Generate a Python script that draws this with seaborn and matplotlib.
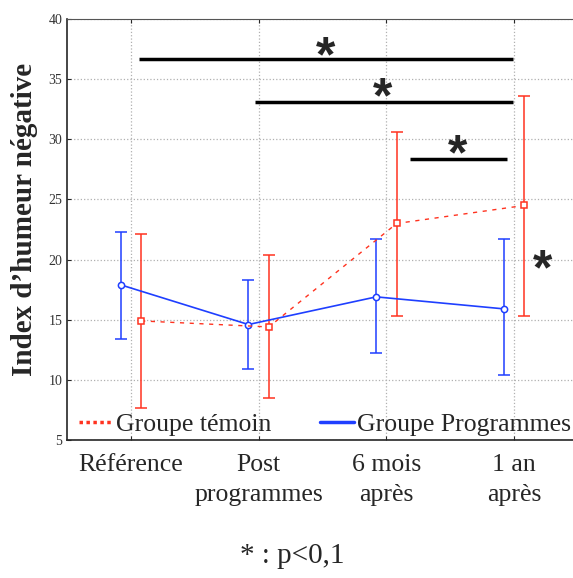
import seaborn as sns
import pandas as pd
import matplotlib.pyplot as plt

sns.set_style('ticks')
plt.rcParams['font.family'] = ['Liberation Serif', 'DejaVu Serif']
plt.rcParams['xtick.direction'] = 'in'
plt.rcParams['ytick.direction'] = 'in'

# données
periodes = ['Référence', 'Post\nprogrammes', '6 mois\naprès', '1 an\naprès']
prog_moy = [17.9, 14.6, 16.9, 15.9]
prog_bas = [13.4, 10.9, 12.2, 10.4]
prog_haut = [22.3, 18.3, 21.7, 21.7]
temoin_moy = [14.9, 14.4, 23.0, 24.5]
temoin_bas = [7.7, 8.5, 15.3, 15.3]
temoin_haut = [22.1, 20.4, 30.6, 33.6]

rouge = '#ff3320'
bleu = '#1f3fff'
decal = 0.08

pos = list(range(len(periodes)))
df = pd.DataFrame({
    'x': [p - decal for p in pos] + [p + decal for p in pos],
    'y': prog_moy + temoin_moy,
    'groupe': ['Groupe Programmes'] * 4 + ['Groupe témoin'] * 4,
})

fig = plt.figure(figsize=(5.73, 5.78), dpi=100)
ax = fig.add_axes([67 / 573, 1 - 440 / 578, 1 - 67 / 573, (440 - 19) / 578])

# barres d'erreur
ax.errorbar([p - decal for p in pos], prog_moy,
            yerr=[[m - b for m, b in zip(prog_moy, prog_bas)],
                  [h - m for m, h in zip(prog_moy, prog_haut)]],
            fmt='none', ecolor=bleu, elinewidth=1.1, capsize=4.5, capthick=1.1, zorder=2)
ax.errorbar([p + decal for p in pos], temoin_moy,
            yerr=[[m - b for m, b in zip(temoin_moy, temoin_bas)],
                  [h - m for m, h in zip(temoin_moy, temoin_haut)]],
            fmt='none', ecolor=rouge, elinewidth=1.1, capsize=4.5, capthick=1.1, zorder=2)

sns.lineplot(data=df[df.groupe == 'Groupe Programmes'], x='x', y='y', ax=ax,
             color=bleu, lw=1.2, marker='o', markersize=4.5, markerfacecolor='white',
             markeredgecolor=bleu, markeredgewidth=1.1, zorder=3, legend=False)
sns.lineplot(data=df[df.groupe == 'Groupe témoin'], x='x', y='y', ax=ax,
             color=rouge, lw=1.0, dashes=False, linestyle=(0, (3, 4)), marker='s',
             markersize=4.5, markerfacecolor='white', markeredgecolor=rouge,
             markeredgewidth=1.1, zorder=3, legend=False)

ax.set_xlim(-0.5, 3.46)
ax.set_ylim(5, 40)
ax.set_xticks(pos)
ax.set_xticklabels(periodes, fontsize=18.5, linespacing=1.5)
ax.set_yticks(range(5, 41, 5))
ax.tick_params(axis='y', labelsize=10, labelcolor='#333333', length=3)
ax.tick_params(axis='x', length=3, pad=10, top=True)
ax.set_xlabel('')
ax.set_ylabel('Index d’humeur négative', fontsize=21, fontweight='bold')
ax.yaxis.set_label_coords(-0.057, 0.525)
ax.grid(True, color='#b0b0b0', linestyle=':', linewidth=0.9)
ax.spines['right'].set_visible(False)
ax.spines['top'].set_color('#555555')
for s in ['left', 'bottom']:
    ax.spines[s].set_linewidth(1.2)

# comparaisons significatives
ax.hlines(36.7, 0.06, 2.99, color='black', lw=2.5)
ax.hlines(33.1, 0.97, 2.99, color='black', lw=2.5)
ax.hlines(28.4, 2.185, 2.945, color='black', lw=2.5)
etoile = dict(family='Liberation Sans', fontsize=36, fontweight='bold', ha='center', va='center')
ax.text(1.52, 36.75, '*', **etoile)
ax.text(1.97, 33.35, '*', **etoile)
ax.text(2.56, 28.6, '*', **etoile)
ax.text(3.22, 19.0, '*', **etoile)

# légende
h_t, = ax.plot([], [], color=rouge, lw=2.5, linestyle=(0, (1, 1)))
h_p, = ax.plot([], [], color=bleu, lw=2.5)
ax.legend([h_t, h_p], ['Groupe témoin', 'Groupe Programmes'], ncol=2, frameon=False,
          loc='lower center', bbox_to_anchor=(0.51, -0.045), fontsize=18.5,
          handlelength=1.3, handletextpad=0.15, columnspacing=1.9)

fig.text(0.51, 1 - 556 / 578, '* : p<0,1', ha='center', va='center', fontsize=21)

fig.savefig('out.png', dpi=100)
